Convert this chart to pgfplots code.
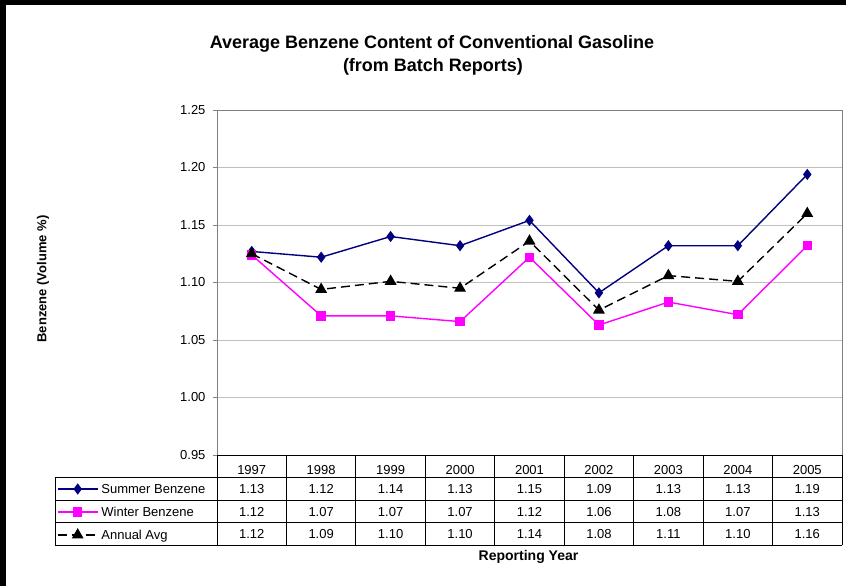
\documentclass[border=0pt]{standalone}
\usepackage{fontspec}
\setmainfont{Liberation Sans}
\usepackage{pgfplots}
\pgfplotsset{compat=1.18}
\definecolor{summer}{HTML}{000080}
\definecolor{winter}{HTML}{FF00FF}
\definecolor{gridc}{HTML}{C0C0C0}
\definecolor{axc}{HTML}{808080}
\newcommand{\tf}{\fontsize{13bp}{15bp}\selectfont}
\begin{document}
\begin{tikzpicture}
\useasboundingbox (0,0) rectangle (846bp,-586bp);
\fill[white] (0,0) rectangle (846bp,-586bp);
\fill[black] (0,0) rectangle (846bp,-5bp);
\fill[black] (0,0) rectangle (6bp,-586bp);

\begin{axis}[
  at={(217bp,-455bp)}, anchor=south west,
  scale only axis, width=625bp, height=345bp,
  xmin=-0.5, xmax=8.5, ymin=0.95, ymax=1.25,
  ytick={0.95,1.00,1.05,1.10,1.15,1.20,1.25},
  yticklabel style={/pgf/number format/fixed, /pgf/number format/fixed zerofill, /pgf/number format/precision=2, /pgf/number format/assume math mode=true},
  yticklabel style={font=\tf, black, xshift=-4bp},
  ytick pos=left, tick align=outside,
  major tick length=4bp,
  major tick style={axc, line width=0.8bp},
  xtick={0,...,8},
  xticklabels={1997,1998,1999,2000,2001,2002,2003,2004,2005},
  xticklabel style={font=\tf, anchor=base, yshift=-15.5bp, inner sep=0pt},
  major x tick style={draw=none},
  ymajorgrids, grid style={gridc, line width=0.8bp},
  axis line style={axc, line width=0.8bp},
  clip=false,
  legend cell align=left,
  legend style={at={(axis description cs:-0.256,-0.0638)}, anchor=north west,
    draw=none, fill=none, inner sep=0pt, outer sep=0pt, row sep=0pt, column sep=3bp,
    nodes={inner sep=0pt, text height=16.5bp, text depth=6.5bp, font=\tf}},
  legend image code/.code={\draw[mark repeat=2,mark phase=2,#1] plot coordinates {(0bp,-0.5bp) (20bp,-0.5bp) (40bp,-0.5bp)};},
]
\addplot[summer, line width=1.4bp, mark=diamond*, mark size=4.5bp, mark options={solid, fill=summer}]
  coordinates {(0,1.127) (1,1.122) (2,1.140) (3,1.132) (4,1.154) (5,1.091) (6,1.132) (7,1.132) (8,1.194)};
\addlegendentry{Summer Benzene}
\addplot[winter, line width=1.4bp, mark=square*, mark size=4bp, mark options={solid, fill=winter}]
  coordinates {(0,1.124) (1,1.071) (2,1.071) (3,1.066) (4,1.122) (5,1.063) (6,1.083) (7,1.072) (8,1.132)};
\addlegendentry{Winter Benzene}
\addplot[black, line width=1.4bp, dash pattern=on 9bp off 5bp, mark=triangle*, mark size=5.5bp, mark options={solid, fill=black}]
  coordinates {(0,1.125) (1,1.094) (2,1.101) (3,1.095) (4,1.136) (5,1.076) (6,1.106) (7,1.101) (8,1.160)};
\addlegendentry{Annual Avg}
\end{axis}

% data table grid
\draw[black, line width=0.8bp] (217bp,-455bp) -- (842bp,-455bp);
\foreach \yy in {477,500,522,545} \draw[black, line width=0.8bp] (55bp,-\yy bp) -- (842bp,-\yy bp);
\draw[black, line width=0.8bp] (55bp,-477bp) -- (55bp,-545bp);
\foreach \k in {0,...,9} \draw[black, line width=0.8bp] ({217bp+\k*625bp/9},-455bp) -- ({217bp+\k*625bp/9},-545bp);
% table values
\foreach \v [count=\k from 0] in {1.13,1.12,1.14,1.13,1.15,1.09,1.13,1.13,1.19}
  \node[font=\tf, anchor=base, inner sep=0pt] at ({217bp+(\k+0.5)*625bp/9},-493.5bp) {\v};
\foreach \v [count=\k from 0] in {1.12,1.07,1.07,1.07,1.12,1.06,1.08,1.07,1.13}
  \node[font=\tf, anchor=base, inner sep=0pt] at ({217bp+(\k+0.5)*625bp/9},-516bp) {\v};
\foreach \v [count=\k from 0] in {1.12,1.09,1.10,1.10,1.14,1.08,1.11,1.10,1.16}
  \node[font=\tf, anchor=base, inner sep=0pt] at ({217bp+(\k+0.5)*625bp/9},-538.5bp) {\v};

% titles
\node[font=\fontsize{18bp}{21bp}\selectfont\bfseries] at (432bp,-44bp) {Average Benzene Content of Conventional Gasoline};
\node[font=\fontsize{18bp}{21bp}\selectfont\bfseries] at (433bp,-66.5bp) {(from Batch Reports)};
\node[font=\fontsize{14bp}{16bp}\selectfont\bfseries] at (528.5bp,-557bp) {Reporting Year};
\node[font=\fontsize{13bp}{15bp}\selectfont\bfseries, rotate=90] at (43bp,-279bp) {Benzene (Volume \%)};
\end{tikzpicture}
\end{document}
